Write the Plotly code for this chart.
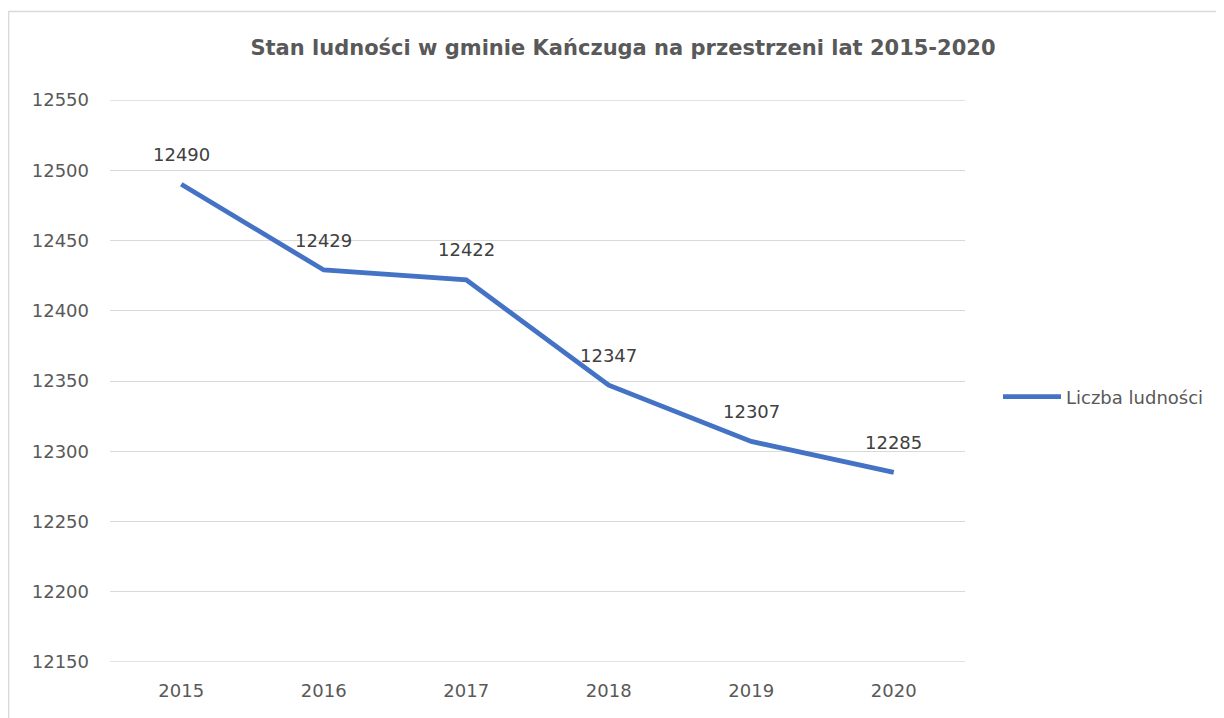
import plotly.graph_objects as go

years = ["2015", "2016", "2017", "2018", "2019", "2020"]
population = [12490, 12429, 12422, 12347, 12307, 12285]
series_name = "Liczba ludności"
title_text = "Stan ludności w gminie Kańczuga na przestrzeni lat 2015-2020"
y_ticks = [12150, 12200, 12250, 12300, 12350, 12400, 12450, 12500, 12550]

FONT = "DejaVu Sans, sans-serif"
OFF = 8  # default page body margin
W, H = 1224 - OFF, 718 - OFF
GRID = "#D9D9D9"

fig = go.Figure()
fig.add_trace(go.Scatter(
    x=list(range(len(years))), y=population, name=series_name, mode="lines",
    line=dict(color="#4472C4", width=4.8),
))

annotations = [
    dict(x=i, y=v, text=str(v), showarrow=False, yshift=30,
         xanchor="center", yanchor="middle",
         font=dict(family=FONT, size=18, color="#404040"))
    for i, v in enumerate(population)
]

# plot area in page pixels: x 110..965, y 100..662
L, R, T, B = 110 - OFF, 965 - OFF, 100 - OFF, 662 - OFF
def px_x(p):
    return (p - OFF - L) / (R - L)
def px_y(p):
    return (B - (p - OFF)) / (B - T)

shapes = [dict(type="rect", xref="paper", yref="paper",
               x0=px_x(8.7), x1=px_x(1400), y0=px_y(900), y1=px_y(11.5),
               line=dict(color=GRID, width=1.3), layer="below")]
# edge gridlines (plotly omits gridlines at the range ends)
for yv in (y_ticks[0], y_ticks[-1]):
    shapes.append(dict(type="line", xref="paper", yref="y", x0=0, x1=1, y0=yv, y1=yv,
                       line=dict(color=GRID, width=1.3), layer="below"))

fig.update_layout(
    width=W, height=H,
    margin=dict(l=L, r=W - R, t=T, b=H - B, autoexpand=False),
    paper_bgcolor="white", plot_bgcolor="white",
    title=dict(text="<b>" + title_text + "</b>", x=(623 - OFF) / W, xanchor="center",
               y=1 - (48 - OFF) / H, yanchor="middle",
               font=dict(family=FONT, size=21, color="#595959")),
    xaxis=dict(range=[-0.5, 5.5], tickvals=list(range(len(years))), ticktext=years,
               showgrid=False, zeroline=False, showline=False, ticks="",
               ticklabelstandoff=16,
               tickfont=dict(family=FONT, size=18, color="#595959")),
    yaxis=dict(range=[y_ticks[0], y_ticks[-1]], tickvals=y_ticks, tickformat="d",
               showgrid=True, gridcolor=GRID, gridwidth=1.3, zeroline=False,
               showline=False, ticks="", ticklabelstandoff=20,
               tickfont=dict(family=FONT, size=18, color="#595959")),
    showlegend=True,
    legend=dict(x=px_x(998), y=px_y(397), xanchor="left", yanchor="middle",
                font=dict(family=FONT, size=18, color="#595959"),
                bgcolor="rgba(0,0,0,0)", itemwidth=58),
    annotations=annotations,
    shapes=shapes,
)

fig.write_html("out.html")
